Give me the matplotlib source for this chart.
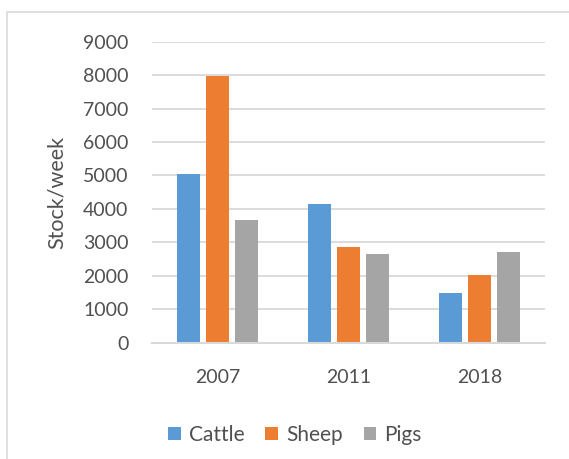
import matplotlib
matplotlib.use('Agg')
import matplotlib.pyplot as plt
from matplotlib.patches import Patch, Rectangle
import numpy as np

plt.rcParams['font.family'] = ['Lato', 'DejaVu Sans']

years = ['2007', '2011', '2018']
series = ['Cattle', 'Sheep', 'Pigs']
cattle = [5050, 4150, 1500]
sheep = [7960, 2860, 2020]
pigs = [3670, 2650, 2710]
colors = ['#5B9BD5', '#ED7D31', '#A5A5A5']

grid_c = '#D9D9D9'
text_c = '#505050'

fig = plt.figure(figsize=(5.69, 4.59), dpi=100)
ax = fig.add_axes([0.2671, 0.2534, 0.6907, 0.6558])

# chart area border (runs off the right/bottom edges)
fig.patches.append(Rectangle((7/569, -0.2), 1.2, 1 - 12/459 + 0.2,
                             transform=fig.transFigure, fill=False,
                             edgecolor=grid_c, linewidth=1.2))

x = np.arange(len(years))
bw = 0.177
step = 0.223
for i, (vals, c) in enumerate(zip([cattle, sheep, pigs], colors)):
    ax.bar(x + (i - 1) * step, vals, width=bw, color=c, zorder=3)

ax.set_xlim(-0.5, 2.5)
ax.set_ylim(0, 9000)
ax.set_yticks(np.arange(0, 9001, 1000))
ax.set_xticks(x)
ax.set_xticklabels(years)
ax.grid(axis='y', color=grid_c, linewidth=1.3, zorder=0)
ax.grid(axis='x', visible=False)
for s in ['top', 'right', 'left']:
    ax.spines[s].set_visible(False)
ax.spines['bottom'].set_color(grid_c)
ax.spines['bottom'].set_linewidth(1.5)
ax.spines['bottom'].set_zorder(4)
ax.tick_params(axis='y', length=0, pad=17, labelsize=14, labelcolor=text_c)
ax.tick_params(axis='x', length=0, pad=19, labelsize=14, labelcolor=text_c)

fig.text(57/569, 1 - 192/459, 'Stock/week', rotation=90, ha='center',
         va='center', fontsize=15.5, color=text_c)

handles = [Patch(facecolor=c, edgecolor='none') for c in colors]
fig.legend(handles, series, loc='center', bbox_to_anchor=(295/569, 1 - 435/459),
           ncol=3, frameon=False, fontsize=15, labelcolor=text_c,
           handlelength=0.6, handleheight=0.6, handletextpad=0.4,
           columnspacing=1.0)

fig.savefig('out.png', dpi=100, facecolor='white')
